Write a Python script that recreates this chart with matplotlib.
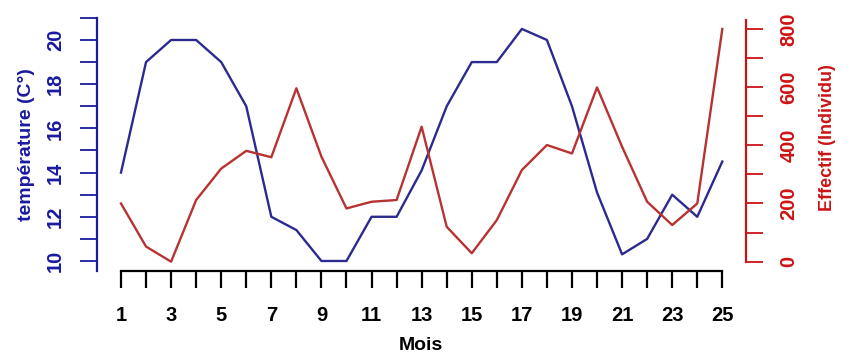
import matplotlib
matplotlib.use("Agg")
import matplotlib.pyplot as plt

mois = list(range(1, 26))
temperature = [14, 19, 20, 20, 19, 17, 12, 11.4, 10, 10, 12, 12, 14.1, 17, 19,
               19, 20.5, 20, 17, 13.1, 10.3, 11, 13, 12, 14.5]
effectif = [200, 52, 0, 212, 320, 381, 359, 596, 361, 183, 206, 212, 464, 120, 29,
            143, 315, 401, 372, 599, 395, 206, 126, 200, 800]

x_ticks = list(range(1, 26))
x_labels = [str(m) if m % 2 == 1 else "" for m in x_ticks]
t_ticks = list(range(10, 22))
t_labels = [str(t) if t % 2 == 0 and t <= 20 else "" for t in t_ticks]
e_ticks = list(range(0, 900, 100))
e_labels = [str(e) if e % 200 == 0 else "" for e in e_ticks]

blue_line = "#2b2b8f"
blue_txt = "#1a1aa0"
red_line = "#b83232"
red_txt = "#cc1414"

plt.rcParams['font.family'] = ['Liberation Sans', 'DejaVu Sans']
plt.rcParams['font.weight'] = 'bold'

W, H = 850, 361
fig = plt.figure(figsize=(8.5, 3.61), dpi=100)
ax = fig.add_axes([97/W, 90/H, 649/W, 254/H])
ax2 = ax.twinx()

ax.plot(mois, temperature, color=blue_line, lw=1.7)
ax2.plot(mois, effectif, color=red_line, lw=1.7)

ax.set_xlim(0.043, 25.945)
ax.set_ylim(9.547, 21.04)
ax2.set_ylim(-32, 841)

for a in (ax, ax2):
    a.spines['top'].set_visible(False)
    a.patch.set_visible(False)
ax.spines['right'].set_visible(False)
ax2.spines['left'].set_visible(False)
ax2.spines['bottom'].set_visible(False)

ax.spines['bottom'].set_bounds(1, 25)
ax.spines['bottom'].set_linewidth(1.6)
ax.spines['left'].set_bounds(9.55, 21)
ax.spines['left'].set_color(blue_txt)
ax.spines['left'].set_linewidth(1.6)
ax2.spines['right'].set_bounds(0, 830)
ax2.spines['right'].set_color(red_txt)
ax2.spines['right'].set_linewidth(1.6)

ax.set_xticks(x_ticks)
ax.set_xticklabels(x_labels, fontsize=14.5, fontweight='bold')
ax.tick_params(axis='x', length=12, width=1.6, pad=13)

ax.set_yticks(t_ticks)
ax.set_yticklabels(t_labels, fontsize=14.5, fontweight='bold', rotation=90, va='center')
ax.tick_params(axis='y', length=12, width=1.3, color=blue_txt, labelcolor=blue_txt, pad=11)

ax2.set_yticks(e_ticks)
ax2.set_yticklabels(e_labels, fontsize=14.5, fontweight='bold', rotation=90, va='center')
ax2.tick_params(axis='y', length=12, width=1.3, color=red_txt, labelcolor=red_txt, pad=12)

# axis titles placed like the R output
fig.text(421/W, 1 - 346/H, "Mois", fontsize=14, fontweight='bold',
         ha='center', va='center')
fig.text(27/W, 1 - 145/H, "température (C°)", fontsize=14, fontweight='bold',
         color=blue_txt, rotation=90, ha='center', va='center')
fig.text(828/W, 1 - 138/H, "Effectif (Individu)", fontsize=13, fontweight='bold',
         color=red_txt, rotation=90, ha='center', va='center')

fig.savefig("out.png", dpi=100)
